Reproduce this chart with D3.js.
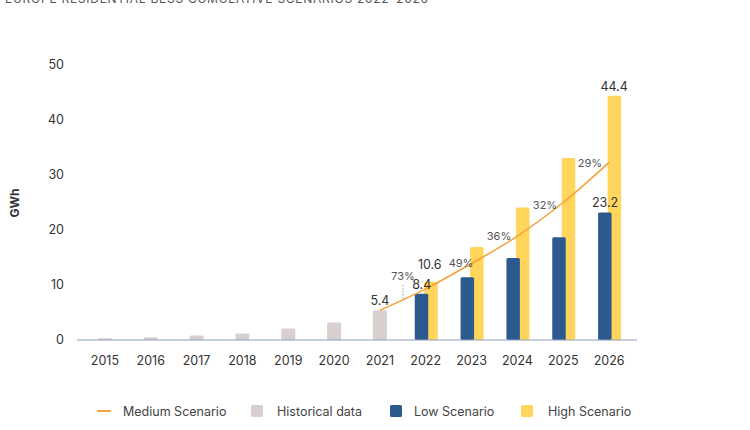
<!DOCTYPE html>
<html>
<head>
<meta charset="utf-8">
<script src="https://d3js.org/d3.v7.min.js"></script>
<style>
  body { margin: 0; background: #fff; }
  svg { font-family: Inter, "Noto Sans", sans-serif; }
  .tick-label { font-size: 12.5px; fill: #333; }
  .legend-text { font-size: 12.5px; fill: #444; }
</style>
</head>
<body>
<svg width="750" height="430"></svg>
<script>
// categories and series
const years = ["2015","2016","2017","2018","2019","2020","2021","2022","2023","2024","2025","2026"];
const historical = [0.3, 0.5, 0.8, 1.2, 2.1, 3.2, 5.4];
const lowYears = ["2022","2023","2024","2025","2026"];
const lowScenario = [8.4, 11.4, 14.9, 18.7, 23.2];
const highScenario = [10.6, 16.9, 24.1, 33.1, 44.4];
const mediumYears = ["2021","2022","2023","2024","2025","2026"];
const mediumScenario = [5.4, 9.3, 13.9, 18.9, 25.0, 32.3];
const growthLabels = ["73%", "49%", "36%", "32%", "29%"];
const yTicks = [0, 10, 20, 30, 40, 50];

const colors = { hist: "#d7d0ce", low: "#2d5a8e", high: "#ffd55c", med: "#f7a13d" };

const svg = d3.select("svg");

const x = d3.scaleBand().domain(years).range([82, 632]);
const y = d3.scaleLinear().domain([0, 50]).range([340, 65]);
const cx = d => x(d) + x.bandwidth() / 2;

// title (cut off at the top as in the source)
svg.append("text")
  .attr("x", 5).attr("y", 3)
  .attr("textLength", 423)
  .style("font-size", "12px").style("fill", "#555")
  .text("EUROPE RESIDENTIAL BESS CUMULATIVE SCENARIOS 2022\u20132026");

// y axis labels
svg.selectAll(".ytick").data(yTicks).enter().append("text")
  .attr("class", "tick-label")
  .attr("x", 64).attr("y", d => y(d) + 4)
  .attr("text-anchor", "end")
  .text(d => d);

svg.append("text")
  .attr("transform", "translate(19," + 203 + ") rotate(-90)")
  .attr("text-anchor", "middle")
  .style("font-size", "12px").style("font-weight", "bold").style("fill", "#333")
  .text("GWh");

// historical bars
svg.selectAll(".hist").data(historical).enter().append("rect")
  .attr("x", (d, i) => cx(years[i]) - 7)
  .attr("y", d => y(d))
  .attr("width", 14)
  .attr("height", d => y(0) - y(d))
  .attr("rx", 1.5)
  .attr("fill", colors.hist);

// high scenario bars (behind)
svg.selectAll(".high").data(highScenario).enter().append("rect")
  .attr("x", (d, i) => cx(lowYears[i]) - 1.5)
  .attr("y", d => y(d))
  .attr("width", 13.5)
  .attr("height", d => y(0) - y(d))
  .attr("rx", 1.5)
  .attr("fill", colors.high);

// low scenario bars
svg.selectAll(".low").data(lowScenario).enter().append("rect")
  .attr("x", (d, i) => cx(lowYears[i]) - 11)
  .attr("y", d => y(d))
  .attr("width", 13.5)
  .attr("height", d => y(0) - y(d))
  .attr("rx", 1.5)
  .attr("fill", colors.low);

// x axis line
svg.append("line")
  .attr("x1", 77).attr("x2", 637)
  .attr("y1", y(0)).attr("y2", y(0))
  .attr("stroke", "#8d9cc0").attr("stroke-width", 1.2);

// x labels
svg.selectAll(".xtick").data(years).enter().append("text")
  .attr("class", "tick-label")
  .attr("x", d => cx(d)).attr("y", 365)
  .attr("text-anchor", "middle")
  .text(d => d);

// medium scenario line
const line = d3.line()
  .x((d, i) => cx(mediumYears[i]))
  .y(d => y(d))
  .curve(d3.curveMonotoneX);

svg.append("path")
  .datum(mediumScenario)
  .attr("d", line)
  .attr("fill", "none")
  .attr("stroke", colors.med)
  .attr("stroke-width", 1.6);

// growth labels
const growthPos = [[403, 280], [461, 267], [499, 240], [545, 209], [590, 167]];
svg.selectAll(".growth").data(growthLabels).enter().append("text")
  .attr("x", (d, i) => growthPos[i][0])
  .attr("y", (d, i) => growthPos[i][1])
  .attr("text-anchor", "middle")
  .style("font-size", "11px").style("fill", "#555")
  .text(d => d);

svg.append("line")
  .attr("x1", 403).attr("x2", 403)
  .attr("y1", 285).attr("y2", 299)
  .attr("stroke", "#999").attr("stroke-dasharray", "1.5,1.5");

// value labels
const valueLabels = [
  { v: historical[6], x: cx("2021"), yv: historical[6] },
  { v: lowScenario[0], x: cx("2022") - 4, yv: lowScenario[0] },
  { v: highScenario[0], x: cx("2022") + 4, yv: highScenario[0] + 1.4 },
  { v: lowScenario[4], x: cx("2026") - 4, yv: lowScenario[4] },
  { v: highScenario[4], x: cx("2026") + 5, yv: highScenario[4] }
];
svg.selectAll(".val").data(valueLabels).enter().append("text")
  .attr("x", d => d.x)
  .attr("y", d => y(d.yv) - 5)
  .attr("text-anchor", "middle")
  .style("font-size", "12.5px").style("fill", "#333")
  .text(d => d.v.toFixed(1));

// legend
const legend = [
  { label: "Medium Scenario", type: "line", color: colors.med, x: 97, tx: 123 },
  { label: "Historical data", type: "box", color: colors.hist, x: 251, tx: 277 },
  { label: "Low Scenario", type: "box", color: colors.low, x: 390, tx: 414 },
  { label: "High Scenario", type: "box", color: colors.high, x: 521, tx: 548 }
];
const lg = svg.selectAll(".lg").data(legend).enter().append("g");
lg.filter(d => d.type === "line").append("line")
  .attr("x1", d => d.x).attr("x2", d => d.x + 14)
  .attr("y1", 411).attr("y2", 411)
  .attr("stroke", d => d.color).attr("stroke-width", 2);
lg.filter(d => d.type === "box").append("rect")
  .attr("x", d => d.x).attr("y", 405)
  .attr("width", 12).attr("height", 12).attr("rx", 1.5)
  .attr("fill", d => d.color);
lg.append("text")
  .attr("class", "legend-text")
  .attr("x", d => d.tx).attr("y", 415.5)
  .text(d => d.label);
</script>
</body>
</html>
